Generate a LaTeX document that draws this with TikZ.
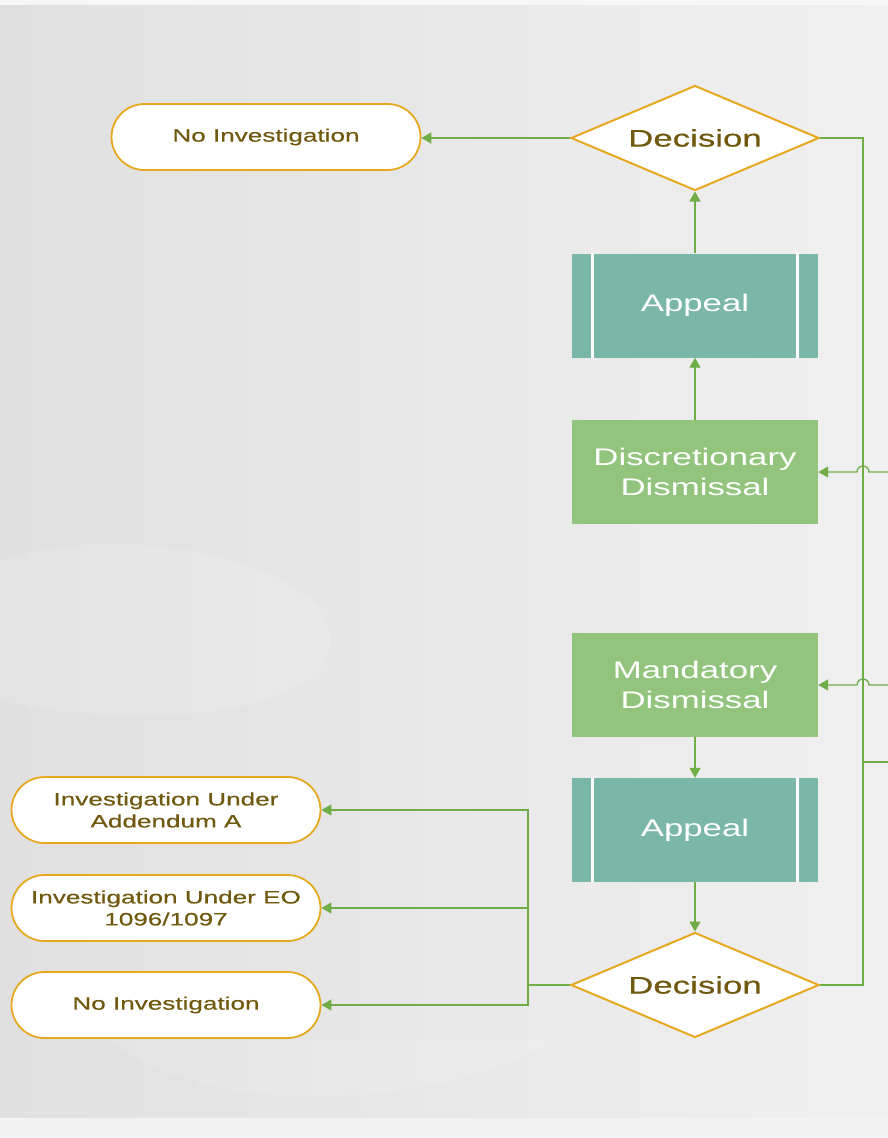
\documentclass[tikz,border=0pt]{standalone}
\usepackage{fontspec}
\setmainfont{Liberation Sans}[FakeStretch=1.45]
\newfontfamily\labelfont{Liberation Sans}[FakeStretch=1.45,FakeBold=0.4]
\usetikzlibrary{shapes.geometric,shapes.misc,arrows.meta}
\definecolor{gold}{RGB}{230,168,30}
\definecolor{olivetext}{RGB}{112,88,14}
\definecolor{conncol}{RGB}{112,173,71}
\definecolor{tealbox}{RGB}{122,183,168}
\definecolor{greenbox}{RGB}{147,196,125}
\definecolor{bgleft}{RGB}{224,224,224}
\definecolor{bgright}{RGB}{240,240,240}
\tikzset{
  decision/.style={diamond, draw=gold, line width=2, fill=white, minimum width=248, minimum height=105, inner sep=0, aspect=2.36, text=olivetext, font=\labelfont\fontsize{24}{28}\selectfont},
  terminal/.style={rounded rectangle, draw=gold, line width=1.8, fill=white, minimum width=313, minimum height=66, inner sep=2, text=olivetext, align=center, font=\labelfont\fontsize{18}{22}\selectfont},
  procbox/.style={rectangle, fill=greenbox, minimum width=246, minimum height=104, text=white, align=center, font=\fontsize{24}{30}\selectfont},
  appealbox/.style={procbox, fill=tealbox},
  link/.style={draw=conncol, line width=1.3},
  arr/.style={link, -{Triangle[length=10,width=11]}},
  sepline/.style={draw=white, line width=3}
}
\begin{document}
\begin{tikzpicture}[x=1pt,y=-1pt]
% background
\useasboundingbox (0,0) rectangle (888,1138);
\fill[white!97!black] (0,0) rectangle (888,1138);
\shade[left color=bgleft, right color=bgright] (0,5) rectangle (888,1118);
\fill[white!95!black] (0,1118) rectangle (888,1138);
\fill[white, opacity=0.12] (0,560) .. controls (120,520) and (330,560) .. (330,640) .. controls (330,720) and (120,730) .. (0,700) -- cycle;
\fill[white, opacity=0.1] (110,1040) .. controls (200,1120) and (450,1110) .. (550,1040) -- cycle;

% nodes
\node[decision] (dec1) at (695,138) {Decision};
\node[terminal] (ni1) at (266,137) {No Investigation};
\node[appealbox] (ap1) at (695,305.5) {Appeal};
\node[procbox] (dd) at (695,472) {Discretionary\\Dismissal};
\node[procbox] (md) at (695,685) {Mandatory\\Dismissal};
\node[appealbox] (ap2) at (695,830) {Appeal};
\node[decision] (dec2) at (695,985) {Decision};
\node[terminal] (iA) at (166,810) {Investigation Under\\Addendum A};
\node[terminal] (iE) at (166,908) {Investigation Under EO\\1096/1097};
\node[terminal] (ni2) at (166,1005) {No Investigation};

% process bars
\foreach \n in {ap1,ap2}{
  \draw[sepline] ([xshift=21]\n.north west) -- ([xshift=21]\n.south west);
  \draw[sepline] ([xshift=-21]\n.north east) -- ([xshift=-21]\n.south east);
}

% connectors
\draw[arr] (dec1.west) -- (ni1.east |- dec1.west);
\draw[arr] (ap1.north) -- (dec1.south);
\draw[arr] (dd.north) -- (ap1.south);
\draw[arr] (md.south) -- (ap2.north);
\draw[arr] (ap2.south) -- (dec2.north);

\coordinate (j) at (528,985);
\draw[link] (dec2.west) -- (j);
\draw[arr] (j) |- (iA.east);
\draw[arr] (j) |- (iE.east);
\draw[arr] (j) |- (ni2.east);

\coordinate (rt) at (863,138);
\coordinate (rb) at (863,985);
\draw[link] (dec1.east) -- (rt) -- (rb) -- (dec2.east);

\coordinate (inD) at (888,472);
\coordinate (inM) at (888,685);
\coordinate (tapS) at (863,762);
\coordinate (tapE) at (888,762);
\draw[arr] (inD) -- (869,472) arc[start angle=0, end angle=-180, radius=6] -- (dd.east);
\draw[arr] (inM) -- (869,685) arc[start angle=0, end angle=-180, radius=6] -- (md.east);
\draw[link] (tapS) -- (tapE);
\end{tikzpicture}
\end{document}
